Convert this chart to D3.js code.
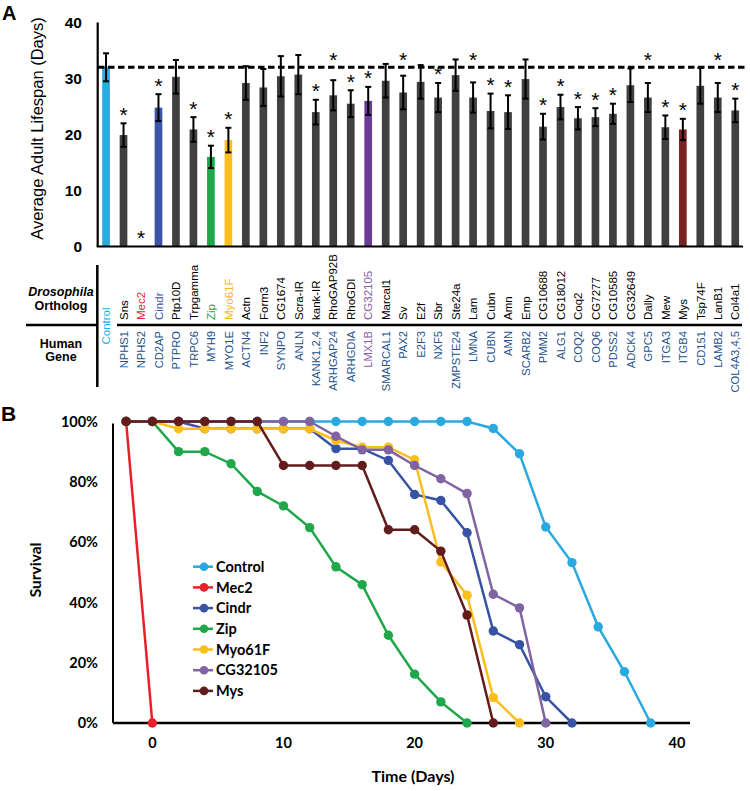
<!DOCTYPE html>
<html>
<head>
<meta charset="utf-8">
<script src="https://cdn.jsdelivr.net/npm/d3@7"></script>
<style>
  body { margin: 0; background: #fff; }
  svg { display: block; }
</style>
</head>
<body>
<div id="chart"></div>
<script>
// ---- Panel A data ----
const orthologs = ["Control", "Sns", "Mec2", "Cindr", "Ptp10D", "Trpgamma", "Zip", "Myo61F", "Actn",
    "Form3", "CG1674", "Scra-IR", "kank-IR", "RhoGAP92B", "RhoGDI", "CG32105", "Marcal1", "Sv", "E2f",
    "Sbr", "Ste24a", "Lam", "Cubn", "Amn", "Emp", "CG10688", "CG18012", "Coq2", "CG7277", "CG10585",
    "CG32649", "Dally", "Mew", "Mys", "Tsp74F", "LanB1", "Col4a1"];
const humanGenes = [null, "NPHS1", "NPHS2", "CD2AP", "PTPRO", "TRPC6", "MYH9", "MYO1E", "ACTN4",
    "INF2", "SYNPO", "ANLN", "KANK1,2,4", "ARHGAP24", "ARHGDIA", "LMX1B", "SMARCAL1", "PAX2", "E2F3",
    "NXF5", "ZMPSTE24", "LMNA", "CUBN", "AMN", "SCARB2", "PMM2", "ALG1", "COQ2", "COQ6", "PDSS2",
    "ADCK4", "GPC5", "ITGA3", "ITGB4", "CD151", "LAMB2", "COL4A3,4,5"];
const lifespan = [32, 19.9, 0, 24.8, 30.3, 20.9, 16, 19, 29.2,
    28.4, 30.4, 30.7, 24, 27, 25.5, 26, 29.6, 27.5, 29.4,
    26.6, 30.6, 26.6, 24.2, 24, 29.9, 21.4, 24.9, 22.9, 23.1, 23.7,
    28.8, 26.6, 21.3, 20.9, 28.7, 26.6, 24.3];
const lifespanErr = [2.5, 2.1, 0, 2.4, 3, 2.2, 2, 2.2, 3,
    3.3, 3.6, 3.5, 2.2, 2.7, 2.4, 2.5, 3, 3, 3,
    2.6, 2.8, 2.7, 3.1, 3, 3.5, 2.3, 2.2, 2, 1.6, 1.8,
    3, 2.6, 2.1, 1.9, 3.2, 2.6, 2.1];
const significant = ["Sns", "Mec2", "Cindr", "Trpgamma", "Zip", "Myo61F", "kank-IR", "RhoGAP92B",
    "RhoGDI", "CG32105", "Sv", "Sbr", "Lam", "Cubn", "Amn", "CG10688", "CG18012", "Coq2", "CG7277",
    "CG10585", "Dally", "Mew", "Mys", "LanB1", "Col4a1"];
const raisedStars = ["RhoGAP92B", "Sv", "Lam", "Dally", "LanB1"];
const controlMean = 32;
const lifespanTicks = [0, 10, 20, 30, 40];

// ---- Panel B data ----
const days = [-2, 0, 2, 4, 6, 8, 10, 12, 14, 16, 18, 20, 22, 24, 26, 28, 30, 32, 34, 36, 38];
const lines = ["Control", "Mec2", "Cindr", "Zip", "Myo61F", "CG32105", "Mys"];
const survControl = [100, 100, 100, 100, 100, 100, 100, 100, 100, 100, 100, 100, 100, 100, 97.7, 89.3, 65, 53.2, 31.9, 17, 0];
const survMec2 = [100, 0];
const survCindr = [100, 100, 100, 97.6, 97.6, 97.6, 97.6, 97.6, 91, 91, 87.1, 75.8, 73.8, 63.1, 30.5, 26, 8.7, 0];
const survZip = [100, 100, 90, 90, 86, 76.8, 72, 64.8, 51.8, 45.9, 29.1, 16.2, 7, 0];
const survMyo61F = [100, 100, 97.6, 97.6, 97.6, 97.6, 97.6, 97.6, 93.7, 91.5, 91.5, 87.3, 53.4, 42.4, 8.4, 0];
const survCG32105 = [100, 100, 100, 100, 100, 100, 100, 100, 95.1, 90.6, 90.6, 85.4, 81, 76.1, 42.7, 38.2, 0];
const survMys = [100, 100, 100, 100, 100, 100, 85.4, 85.4, 85.4, 85.4, 64.1, 64.1, 57, 35.8, 0];
const survTicks = [0, 20, 40, 60, 80, 100];
const timeTicks = [0, 10, 20, 30, 40];

// ---- styles ----
const barColor = { Control: "#29abe2", Cindr: "#3b54a5", Zip: "#1ea84b", Myo61F: "#fbbf1e",
    CG32105: "#6d3a98", Mys: "#7a2224" };
const labelColor = { Control: "#29abe2", Mec2: "#e8262d", Cindr: "#3b54a5", Zip: "#1ea84b",
    Myo61F: "#f8b81c", CG32105: "#8a5ca8" };
const lineColor = { Control: "#2aa9e0", Mec2: "#e8202a", Cindr: "#3953a4", Zip: "#1ea84b",
    Myo61F: "#fbbf1c", CG32105: "#8064a2", Mys: "#621c1c" };
const geneBlue = "#22508c";

const svg = d3.select("#chart").append("svg")
    .attr("width", 750).attr("height", 791);

const arial = "'Liberation Sans', Arial, sans-serif";
const lato = "Lato, 'Open Sans', sans-serif";

// ================= Panel A =================
const gA = svg.append("g").style("font-family", arial);

const x = d3.scaleBand()
    .domain(orthologs)
    .range([97.3, 744])
    .paddingInner(0.56)
    .paddingOuter(0.28);
const y = d3.scaleLinear().domain([0, 40]).range([246.5, 22.5]);
const cx = d => x(d) + x.bandwidth() / 2;

gA.append("text").attr("x", 2).attr("y", 20)
    .style("font-size", "20px").style("font-weight", "bold").text("A");

// y axis
gA.append("line").attr("x1", 97.7).attr("x2", 97.7).attr("y1", y(40)).attr("y2", y(0))
    .attr("stroke", "#000").attr("stroke-width", 2.2);
gA.selectAll(".ytick").data(lifespanTicks).enter().append("text")
    .attr("x", 82).attr("y", d => y(d)).attr("dy", "0.36em")
    .attr("text-anchor", "end")
    .style("font-size", "15.5px").style("font-weight", "bold")
    .text(d => d);
gA.append("text")
    .attr("transform", "translate(43," + (y(20) - 6) + ") rotate(-90)")
    .attr("text-anchor", "middle")
    .style("font-size", "16.5px")
    .text("Average Adult Lifespan (Days)");

// bars
const barData = orthologs.map((c, i) => ({ c, v: lifespan[i], e: lifespanErr[i] }));
gA.selectAll(".bar").data(barData.filter(d => d.v > 0)).enter().append("rect")
    .attr("x", d => x(d.c)).attr("width", x.bandwidth())
    .attr("y", d => y(d.v)).attr("height", d => y(0) - y(d.v))
    .attr("fill", d => barColor[d.c] || "#404040");

// dashed control line
gA.append("line").attr("x1", 98).attr("x2", 745)
    .attr("y1", y(controlMean)).attr("y2", y(controlMean))
    .attr("stroke", "#000").attr("stroke-width", 3).attr("stroke-dasharray", "6.5,3.5");

// error bars
const eb = gA.selectAll(".err").data(barData.filter(d => d.e > 0)).enter().append("g");
eb.append("line").attr("x1", d => cx(d.c)).attr("x2", d => cx(d.c))
    .attr("y1", d => y(d.v + d.e)).attr("y2", d => y(d.v - d.e))
    .attr("stroke", "#000").attr("stroke-width", 2);
[1, -1].forEach(s => {
    eb.append("line").attr("x1", d => cx(d.c) - 3).attr("x2", d => cx(d.c) + 3)
        .attr("y1", d => y(d.v + s * d.e)).attr("y2", d => y(d.v + s * d.e))
        .attr("stroke", "#000").attr("stroke-width", 2);
});

// x axis
gA.append("line").attr("x1", 96.7).attr("x2", 743).attr("y1", y(0)).attr("y2", y(0))
    .attr("stroke", "#000").attr("stroke-width", 2.2);

// significance stars
gA.selectAll(".star").data(barData.filter(d => significant.includes(d.c))).enter().append("text")
    .attr("x", d => cx(d.c))
    .attr("y", d => {
        const cy = raisedStars.includes(d.c) ? y(34.1) : y(d.v + d.e) - 13;
        return cy + 11.5;
    })
    .attr("text-anchor", "middle")
    .style("font-size", "21px")
    .text("*");

// ortholog / human gene table
gA.append("line").attr("x1", 97.3).attr("x2", 97.3).attr("y1", 265).attr("y2", 387)
    .attr("stroke", "#000").attr("stroke-width", 2.5);
gA.append("line").attr("x1", 26).attr("x2", 97.3).attr("y1", 325).attr("y2", 325)
    .attr("stroke", "#000").attr("stroke-width", 2.5);
gA.append("line").attr("x1", 117).attr("x2", 742).attr("y1", 325).attr("y2", 325)
    .attr("stroke", "#000").attr("stroke-width", 2.5);

const hdr = gA.append("g").attr("text-anchor", "middle")
    .style("font-size", "12.5px").style("font-weight", "bold");
hdr.append("text").attr("x", 61).attr("y", 296).style("font-style", "italic").text("Drosophila");
hdr.append("text").attr("x", 61).attr("y", 309.5).text("Ortholog");
hdr.append("text").attr("x", 61).attr("y", 347.5).text("Human");
hdr.append("text").attr("x", 61).attr("y", 360.5).text("Gene");

gA.selectAll(".orth").data(orthologs).enter().append("text")
    .attr("transform", d => d === "Control"
        ? "translate(" + (cx(d) + 4.2) + ",326) rotate(-90)"
        : "translate(" + (cx(d) + 4.2) + ",320) rotate(-90)")
    .attr("text-anchor", d => d === "Control" ? "middle" : "start")
    .style("font-size", "11.5px")
    .attr("fill", d => labelColor[d] || "#000")
    .text(d => d);

gA.selectAll(".gene").data(orthologs.map((c, i) => ({ c, g: humanGenes[i] })).filter(d => d.g))
    .enter().append("text")
    .attr("transform", d => "translate(" + (cx(d.c) + 4.2) + ",331) rotate(-90)")
    .attr("text-anchor", "end")
    .style("font-size", "11.2px")
    .attr("fill", d => d.c === "CG32105" ? labelColor.CG32105 : geneBlue)
    .text(d => d.g);

// ================= Panel B =================
const gB = svg.append("g").style("font-family", lato).style("font-weight", "bold");

const xs = d3.scaleLinear().domain([-3, 41]).range([113, 690]);
const ys = d3.scaleLinear().domain([0, 100]).range([723, 421.5]);

gB.append("text").attr("x", 1).attr("y", 421).style("font-family", arial)
    .style("font-size", "21px").text("B");

gB.append("line").attr("x1", xs(-3)).attr("x2", xs(-3)).attr("y1", ys(99.3)).attr("y2", ys(0))
    .attr("stroke", "#000").attr("stroke-width", 2);
gB.append("line").attr("x1", xs(-3)).attr("x2", xs(41)).attr("y1", ys(0)).attr("y2", ys(0))
    .attr("stroke", "#000").attr("stroke-width", 2.5);

gB.selectAll(".sy").data(survTicks).enter().append("text")
    .attr("x", 98).attr("y", d => ys(d)).attr("dy", "0.36em")
    .attr("text-anchor", "end").style("font-size", "14.5px")
    .text(d => d + "%");
gB.selectAll(".sx").data(timeTicks).enter().append("text")
    .attr("x", d => xs(d)).attr("y", 748).attr("text-anchor", "middle")
    .style("font-size", "14.5px").text(d => d);
gB.append("text")
    .attr("transform", "translate(41,570) rotate(-90)")
    .attr("text-anchor", "middle").style("font-size", "15.5px").text("Survival");
gB.append("text").attr("x", 413).attr("y", 782).attr("text-anchor", "middle")
    .style("font-size", "16px").text("Time (Days)");

const seriesVals = [survControl, survMec2, survCindr, survZip, survMyo61F, survCG32105, survMys];
const series = lines.map((name, i) => ({
    name,
    pts: seriesVals[i].map((v, j) => ({ d: days[j], v }))
}));

const lineGen = d3.line().x(p => xs(p.d)).y(p => ys(p.v));
const sg = gB.selectAll(".series").data(series).enter().append("g");
sg.append("path").attr("d", s => lineGen(s.pts))
    .attr("fill", "none").attr("stroke", s => lineColor[s.name]).attr("stroke-width", 2.5);
sg.selectAll("circle").data(s => s.pts.map(p => ({ ...p, name: s.name }))).enter().append("circle")
    .attr("cx", p => xs(p.d)).attr("cy", p => ys(p.v)).attr("r", 4.7)
    .attr("fill", p => lineColor[p.name]);

// legend
const lg = gB.selectAll(".leg").data(lines).enter().append("g")
    .attr("transform", (d, i) => "translate(193," + (566.7 + i * 20.7) + ")");
lg.append("line").attr("x1", 0).attr("x2", 20).attr("stroke", d => lineColor[d]).attr("stroke-width", 2.5);
lg.append("circle").attr("cx", 11).attr("r", 4.3).attr("fill", d => lineColor[d]);
lg.append("text").attr("x", 23).attr("dy", "0.36em").style("font-size", "14.5px").text(d => d);
</script>
</body>
</html>
